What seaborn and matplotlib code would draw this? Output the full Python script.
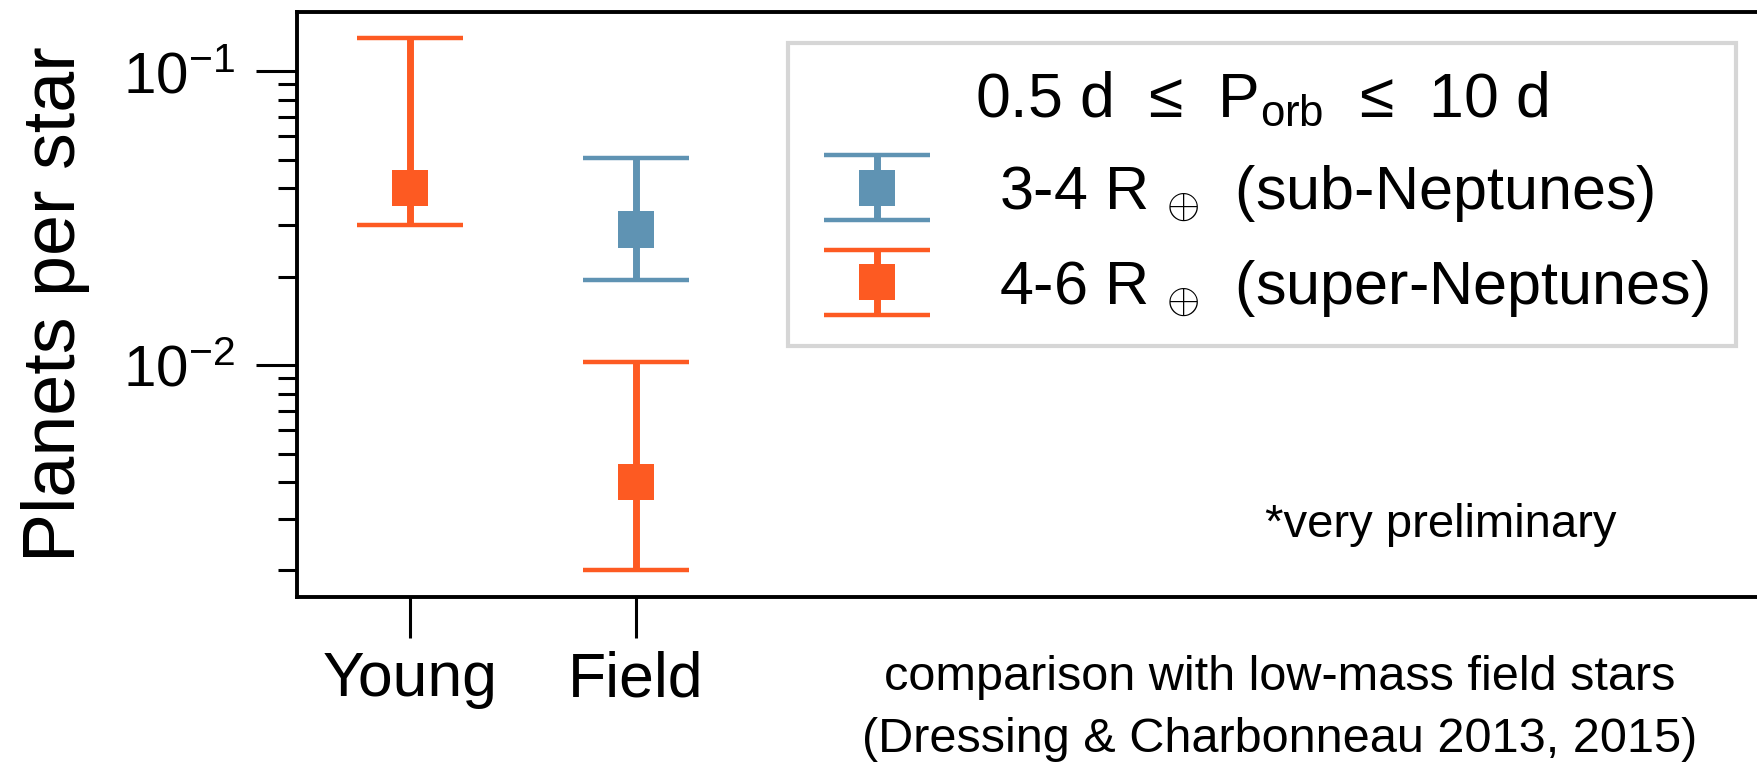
import matplotlib
matplotlib.use("Agg")
import matplotlib.pyplot as plt
import pandas as pd
import seaborn as sns
from matplotlib.container import ErrorbarContainer
from matplotlib.lines import Line2D
from matplotlib.legend_handler import HandlerErrorbar
from matplotlib.ticker import NullFormatter

# Occurrence rates of close-in planets (0.5 d <= P_orb <= 10 d)
groups = ["Young", "Field", "Field"]
size_class = ["4-6", "3-4", "4-6"]
rate = [0.040, 0.0288, 0.0040]
rate_low = [0.030, 0.0195, 0.0020]
rate_high = [0.130, 0.0505, 0.0102]

class_order = ["3-4", "4-6"]
class_labels = {
    "3-4": r"3-4 R ${}_{\oplus}$  (sub-Neptunes)",
    "4-6": r"4-6 R ${}_{\oplus}$  (super-Neptunes)",
}
palette = {"3-4": "#5f93b3", "4-6": "#fd5a22"}

sns.set_theme(style="ticks")
plt.rcParams["font.family"] = ["Liberation Sans", "DejaVu Sans"]
plt.rcParams["mathtext.fontset"] = "custom"
plt.rcParams["mathtext.rm"] = "Liberation Sans"
plt.rcParams["mathtext.it"] = "Liberation Sans:italic"
plt.rcParams["mathtext.sf"] = "Liberation Sans"
plt.rcParams["text.color"] = "black"
plt.rcParams["axes.labelcolor"] = "black"

df = pd.DataFrame({"group": groups, "cls": size_class, "rate": rate,
                   "low": rate_low, "high": rate_high})

fig = plt.figure(figsize=(17.58, 7.65), dpi=100)
ax = fig.add_axes([297 / 1758, 168 / 765, 1.0, 585 / 765])

marker_pt = 26.6
cap_half = 38
bar_lw = 5.0
cap_lw = 3.2

# square markers for the point estimates
sns.scatterplot(data=df, x="group", y="rate", hue="cls", palette=palette,
                marker="s", s=marker_pt ** 2, linewidth=0, legend=False,
                zorder=3, ax=ax)

handles = []
for cls in class_order:
    sub = df[df["cls"] == cls]
    err = [sub["rate"] - sub["low"], sub["high"] - sub["rate"]]
    ec = ax.errorbar(sub["group"], sub["rate"], yerr=err, fmt="none",
                     ecolor=palette[cls], elinewidth=bar_lw, capsize=cap_half,
                     capthick=cap_lw, zorder=2)
    marker_line = Line2D([], [], ls="none", marker="s", ms=marker_pt,
                         mew=0, color=palette[cls])
    handles.append(ErrorbarContainer((marker_line, ec[1], ec[2]),
                                     has_xerr=False, has_yerr=True,
                                     label=class_labels[cls]))

ax.set_yscale("log")
ax.set_ylim(0.001625, 0.1588)
ax.set_xlim(-0.5, -0.5 + 1758 / 226)
ax.yaxis.set_minor_formatter(NullFormatter())

for side in ["left", "bottom", "top", "right"]:
    ax.spines[side].set_linewidth(2.8)
    ax.spines[side].set_color("black")

ax.tick_params(axis="both", which="major", length=29.5, width=2.2,
               color="black", labelcolor="black")
ax.tick_params(axis="y", which="minor", length=14, width=2.2, color="black")
ax.tick_params(axis="x", labelsize=45, pad=9)
ax.tick_params(axis="y", labelsize=42, pad=15)

ax.set_xlabel("")
ax.set_ylabel("Planets per star", fontsize=53, color="black")
ax.yaxis.set_label_coords((90 - 297) / 1758, 0.5)

leg = ax.legend(handles=handles,
                labels=[class_labels[c] for c in class_order],
                title="0.5 d  \u2264  P$_{\\mathrm{orb}}$  \u2264  10 d",
                loc="upper left", bbox_to_anchor=(788 / 1758, 1 - 43 / 765),
                bbox_transform=fig.transFigure, borderaxespad=0,
                fontsize=44, title_fontsize=45, handlelength=2.0,
                handletextpad=1.0, borderpad=0.45, labelspacing=0.55,
                fancybox=False, framealpha=1, edgecolor="#d6d6d6",
                handler_map={ErrorbarContainer: HandlerErrorbar(yerr_size=0.53)})
leg.get_frame().set_linewidth(3.0)
for t in leg.get_texts():
    t.set_color("black")
leg.get_title().set_color("black")

fig.text(1441 / 1758, 1 - 525 / 765, "*very preliminary", fontsize=34,
         ha="center", va="center", color="black")
fig.text(1280 / 1758, 1 - 678 / 765, "comparison with low-mass field stars",
         fontsize=35, ha="center", va="center", color="black")
fig.text(1280 / 1758, 1 - 740 / 765, "(Dressing & Charbonneau 2013, 2015)",
         fontsize=35, ha="center", va="center", color="black")

fig.savefig("out.png", dpi=100)
